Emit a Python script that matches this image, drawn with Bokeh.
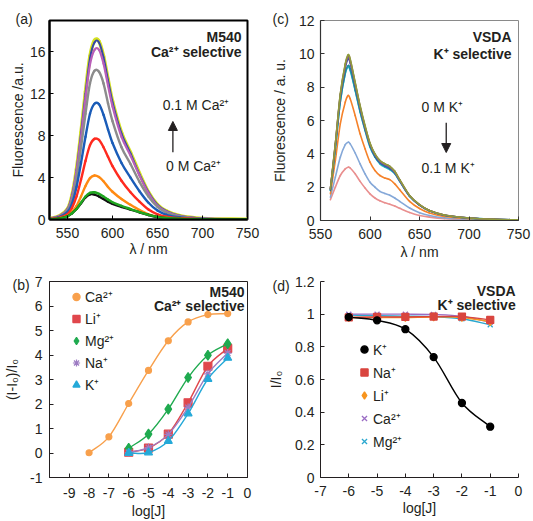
from bokeh.plotting import figure
from bokeh.layouts import gridplot
from bokeh.models import (Range1d, FixedTicker, CustomJSTickFormatter, Label, Arrow,
                          NormalHead, Legend, LegendItem)
from bokeh.embed import file_html
from bokeh.resources import INLINE

FONT = "Liberation Sans"
INK = "#231f20"

# ---------------- data: panel (a) M540 spectra vs Ca2+ ----------------
WL_A = [530, 540, 550, 555, 560, 565, 570, 575, 580, 585, 590, 595, 600,
        610, 620, 630, 640, 650, 660, 675, 700, 750]
A_BLACK = [0.02, 0.08, 0.3, 0.6, 1.0, 1.55, 2.1, 2.4, 2.38, 2.2, 1.95, 1.7, 1.5,
           1.2, 0.95, 0.68, 0.43, 0.24, 0.13, 0.06, 0.02, 0.01]
A_GREEN = [0.02, 0.08, 0.3, 0.6, 1.0, 1.6, 2.2, 2.55, 2.6, 2.45, 2.2, 1.9, 1.65,
           1.3, 1.0, 0.7, 0.45, 0.25, 0.14, 0.06, 0.02, 0.01]
A_ORANGE = [0.03, 0.1, 0.35, 0.7, 1.3, 2.2, 3.2, 3.95, 4.2, 4.05, 3.65, 3.1, 2.65,
            1.95, 1.4, 0.9, 0.5, 0.27, 0.15, 0.07, 0.02, 0.01]
A_RED = [0.05, 0.15, 0.5, 1.1, 2.2, 3.8, 5.6, 7.1, 7.7, 7.6, 6.9, 6.0, 5.1,
         3.7, 2.6, 1.7, 0.95, 0.5, 0.28, 0.12, 0.04, 0.01]
A_BLUE = [0.07, 0.2, 0.7, 1.5, 3.1, 5.4, 7.9, 10.1, 11.05, 11.0, 10.0, 8.6, 7.3,
          5.4, 4.0, 2.7, 1.6, 0.85, 0.45, 0.2, 0.06, 0.01]
A_GRAY = [0.08, 0.25, 0.85, 1.9, 4.0, 6.9, 10.1, 13.0, 14.2, 14.1, 13.0, 11.1, 9.4,
          6.9, 5.3, 3.6, 2.2, 1.2, 0.65, 0.3, 0.08, 0.02]
A_MAGENTA = [0.1, 0.3, 0.95, 2.2, 4.6, 7.9, 11.6, 14.8, 16.2, 16.2, 14.9, 12.8, 10.8,
             7.9, 6.1, 4.2, 2.5, 1.3, 0.75, 0.33, 0.1, 0.02]
A_NAVY = [0.1, 0.3, 1.0, 2.3, 4.7, 8.2, 12.0, 15.4, 16.9, 16.9, 15.5, 13.3, 11.2,
          8.2, 6.3, 4.3, 2.6, 1.4, 0.8, 0.35, 0.1, 0.02]
A_YELLOW = [0.1, 0.3, 1.0, 2.3, 4.8, 8.3, 12.2, 15.6, 17.1, 17.0, 15.6, 13.4, 11.3,
            8.3, 6.4, 4.4, 2.6, 1.4, 0.8, 0.35, 0.1, 0.02]

# ---------------- data: panel (c) VSDA spectra vs K+ ----------------
WL_C = [560, 565, 570, 575, 578, 580, 585, 590, 595, 600, 605, 610, 615, 620,
        625, 630, 640, 650, 660, 675, 700, 725, 750]
C_OLIVE = [1.9, 4.6, 7.6, 9.4, 9.95, 9.7, 8.3, 6.9, 5.7, 4.65, 4.0, 3.6, 3.4, 3.25,
           2.95, 2.45, 1.5, 0.95, 0.6, 0.33, 0.15, 0.07, 0.04]
C_BROWN = [1.9, 4.6, 7.55, 9.35, 9.9, 9.65, 8.25, 6.85, 5.65, 4.6, 3.98, 3.6, 3.4, 3.25,
           2.95, 2.45, 1.5, 0.95, 0.6, 0.33, 0.15, 0.07, 0.04]
C_PURPLE = [1.9, 4.55, 7.5, 9.25, 9.8, 9.55, 8.2, 6.8, 5.6, 4.6, 3.95, 3.55, 3.35, 3.2,
            2.9, 2.4, 1.48, 0.94, 0.6, 0.33, 0.15, 0.07, 0.04]
C_NAVY = [1.85, 4.5, 7.4, 9.15, 9.7, 9.45, 8.1, 6.75, 5.55, 4.55, 3.9, 3.5, 3.3, 3.15,
          2.88, 2.4, 1.47, 0.93, 0.59, 0.32, 0.15, 0.07, 0.04]
C_TEAL = [1.8, 4.35, 7.15, 8.85, 9.3, 9.1, 7.85, 6.55, 5.45, 4.45, 3.82, 3.45, 3.25, 3.1,
          2.83, 2.36, 1.45, 0.92, 0.58, 0.32, 0.14, 0.07, 0.04]
C_CYAN = [1.8, 4.3, 7.1, 8.8, 9.2, 9.0, 7.8, 6.5, 5.4, 4.4, 3.8, 3.4, 3.2, 3.05,
          2.8, 2.35, 1.45, 0.92, 0.58, 0.32, 0.14, 0.07, 0.04]
C_ORANGE = [1.6, 3.6, 5.8, 7.1, 7.5, 7.3, 6.3, 5.2, 4.3, 3.5, 3.0, 2.7, 2.55, 2.45,
            2.2, 1.85, 1.15, 0.72, 0.45, 0.25, 0.11, 0.05, 0.03]
C_LIGHTBLUE = [1.4, 2.6, 3.8, 4.55, 4.7, 4.6, 4.05, 3.4, 2.8, 2.3, 2.0, 1.75, 1.62, 1.52,
               1.35, 1.15, 0.75, 0.47, 0.3, 0.16, 0.07, 0.03, 0.02]
C_PINK = [1.25, 2.0, 2.7, 3.1, 3.2, 3.15, 2.8, 2.35, 1.95, 1.6, 1.35, 1.18, 1.07, 0.98,
          0.87, 0.73, 0.48, 0.3, 0.2, 0.11, 0.05, 0.02, 0.01]

# ---------------- data: panel (b) M540 selectivity ----------------
LOG_B_CA = [-8, -7, -6, -5, -4, -3, -2, -1]
B_CA = [0.01, 0.66, 2.02, 3.37, 4.58, 5.35, 5.65, 5.69]
LOG_B = [-6, -5, -4, -3, -2, -1]
B_LI = [0.03, 0.2, 0.77, 2.05, 3.54, 4.27]
B_MG = [0.19, 0.77, 1.79, 3.08, 3.99, 4.46]
B_NA = [0.02, 0.22, 0.76, 1.86, 3.23, 4.08]
B_K = [0.0, 0.02, 0.49, 1.61, 3.02, 3.88]

# ---------------- data: panel (d) VSDA selectivity ----------------
LOG_D = [-6, -5, -4, -3, -2, -1]
D_K = [0.982, 0.962, 0.908, 0.737, 0.456, 0.311]
D_NA = [0.98, 0.983, 0.983, 0.985, 0.985, 0.965]
D_LI = [0.98, 0.98, 0.98, 0.983, 0.98, 0.955]
D_CA = [1.0, 1.0, 1.0, 0.998, 0.987, 0.95]
D_MG = [0.995, 0.99, 0.988, 0.985, 0.972, 0.935]

TICKS_WL = [550, 600, 650, 700, 750]
TICKS_A_Y = [0, 4, 8, 12, 16]
TICKS_C_Y = [0, 2, 4, 6, 8, 10, 12]
TICKS_B_X = [-9, -8, -7, -6, -5, -4, -3, -2, -1, 0]
TICKS_B_Y = [-1, 0, 1, 2, 3, 4, 5, 6, 7]
TICKS_D_X = [-7, -6, -5, -4, -3, -2, -1, 0]
TICKS_D_Y = [0, 0.2, 0.4, 0.6, 0.8, 1, 1.2]

SUP2P = "\u00b2\u207a"
SUPP = "\u207a"
SUB0 = "\u2080"


def hermite(xs, ys):
    n = len(xs)
    m = []
    for i in range(n):
        a = max(i - 1, 0)
        b = min(i + 1, n - 1)
        m.append((ys[b] - ys[a]) / (xs[b] - xs[a]))
    seg = dict(x0=[], y0=[], x1=[], y1=[], cx0=[], cy0=[], cx1=[], cy1=[])
    for i in range(n - 1):
        h = xs[i + 1] - xs[i]
        seg["x0"].append(xs[i]); seg["y0"].append(ys[i])
        seg["x1"].append(xs[i + 1]); seg["y1"].append(ys[i + 1])
        seg["cx0"].append(xs[i] + h / 3); seg["cy0"].append(ys[i] + m[i] * h / 3)
        seg["cx1"].append(xs[i + 1] - h / 3); seg["cy1"].append(ys[i + 1] - m[i + 1] * h / 3)
    return seg


def curve(p, xs, ys, color, width):
    p.bezier(**hermite(xs, ys), line_color=color, line_width=width, line_cap="round")


def make_fig(w, h, bl, br, bt, bb, xr, yr, letter, offset, standoff):
    p = figure(width=w, height=h, x_range=Range1d(*xr), y_range=Range1d(*yr),
               output_backend="svg", toolbar_location=None,
               min_border_left=bl, min_border_right=br,
               min_border_top=bt, min_border_bottom=bb)
    p.xgrid.grid_line_color = None
    p.ygrid.grid_line_color = None
    p.background_fill_color = "white"
    p.border_fill_color = "white"
    p.title.text = letter
    p.title.align = "left"
    p.title.offset = offset
    p.title.standoff = standoff
    p.title.text_font = FONT
    p.title.text_font_size = "14px"
    p.title.text_font_style = "normal"
    p.title.text_color = INK
    return p


def style_axis(ax, ticks, label, standoff, label_standoff, color=INK, width=1):
    ax.ticker = FixedTicker(ticks=ticks)
    ax.formatter = CustomJSTickFormatter(code="return tick.toString();")
    ax.major_tick_in = 4
    ax.major_tick_out = 0
    ax.minor_tick_line_color = None
    ax.axis_line_color = color
    ax.axis_line_width = width
    ax.major_tick_line_color = color
    ax.major_tick_line_width = 1
    ax.major_label_text_font = FONT
    ax.major_label_text_font_size = "14px"
    ax.major_label_text_color = INK
    ax.major_label_standoff = standoff
    ax.axis_label = label
    ax.axis_label_text_font = FONT
    ax.axis_label_text_font_size = "14px"
    ax.axis_label_text_font_style = "normal"
    ax.axis_label_text_color = INK
    ax.axis_label_standoff = label_standoff


def note(p, x, y, s, align="left", bold=False):
    p.add_layout(Label(x=x, y=y, text=s,
                       text_font=FONT, text_font_size="14px", text_color=INK,
                       text_align=align, text_baseline="middle",
                       text_font_style="bold" if bold else "normal"))


def arrow(p, x, y0, y1):
    p.add_layout(Arrow(end=NormalHead(size=9, fill_color=INK, line_color=INK),
                       x_start=x, y_start=y0, x_end=x, y_end=y1,
                       line_color=INK, line_width=1.3))


def legend(p, items, x, y, gh):
    leg = Legend(items=items, location=(x, y), glyph_width=18, glyph_height=gh,
                 label_height=gh, spacing=3, padding=0, margin=0, label_standoff=-3,
                 border_line_color=None, background_fill_alpha=0,
                 label_text_font=FONT, label_text_font_size="14px",
                 label_text_color=INK)
    p.add_layout(leg)


# ---------------- panel (a) ----------------
pa = make_fig(265, 261, 48, 18, 20, 40, (530, 750), (0, 19), "(a)", -34, -12)
pa.outline_line_color = "black"
pa.outline_line_width = 2
style_axis(pa.xaxis[0], TICKS_WL, "\u03bb / nm", 8, 0, "black", 2)
style_axis(pa.yaxis[0], TICKS_A_Y, "Fluorescence /a.u.", 4, 1, "black", 2)
for ys, col, w in [(A_YELLOW, "#d5e11f", 3.6), (A_NAVY, "#3546a6", 2.0),
                   (A_MAGENTA, "#b95fb8", 2.2), (A_GRAY, "#8c8c8c", 2.4),
                   (A_BLUE, "#1a5cb8", 2.4), (A_RED, "#ff2a1f", 2.4),
                   (A_ORANGE, "#ff8a12", 2.4), (A_BLACK, "#111111", 2.4),
                   (A_GREEN, "#1fa51f", 2.4)]:
    curve(pa, WL_A, ys, col, w)
note(pa, 743.4, 17.39, "M540", "right", True)
note(pa, 743.4, 15.97, "Ca" + SUP2P + " selective", "right", True)
note(pa, 655.7, 10.96, "0.1 M Ca" + SUP2P)
note(pa, 659.4, 5.13, "0 M Ca" + SUP2P)
arrow(pa, 667.1, 6.43, 9.36)

# ---------------- panel (c) ----------------
pc = make_fig(268, 262, 53, 12, 19, 42, (550, 750), (0, 12), "(c)", -48, -12)
pc.outline_line_color = "#8a8a8a"
pc.outline_line_width = 1
style_axis(pc.xaxis[0], TICKS_WL, "\u03bb / nm", 8, 2, "#333333", 1.2)
style_axis(pc.yaxis[0], TICKS_C_Y, "Fluorescence / a. u.", 6, 8, "#333333", 1.2)
for ys, col in [(C_PINK, "#e98f8f"), (C_LIGHTBLUE, "#85a8d8"), (C_ORANGE, "#f5822a"),
                (C_CYAN, "#2cb8cc"), (C_TEAL, "#1e8e9e"), (C_NAVY, "#3d4ea3"),
                (C_PURPLE, "#7b5aa6"), (C_BROWN, "#9a6a4a"), (C_OLIVE, "#8f9b3e")]:
    curve(pc, WL_C, ys, col, 1.6)
note(pc, 743, 11.0, "VSDA", "right", True)
note(pc, 743, 10.0, "K" + SUPP + " selective", "right", True)
note(pc, 652, 6.8, "0 M K" + SUPP)
note(pc, 652, 3.13, "0.1 M K" + SUPP)
arrow(pc, 677, 5.87, 4.08)

# ---------------- panel (b) ----------------
pb = make_fig(265, 259, 49, 18, 19, 44, (-10, 0), (-1, 7), "(b)", -37, -22)
pb.outline_line_color = INK
pb.outline_line_width = 1
style_axis(pb.xaxis[0], TICKS_B_X, "log[J]", 10, 2)
style_axis(pb.yaxis[0], TICKS_B_Y, "(I-I" + SUB0 + ")/I" + SUB0, 7, 7)
b_series = [
    ("Ca" + SUP2P, LOG_B_CA, B_CA, "#f8a04c", "circle", 6),
    ("Li" + SUPP, LOG_B, B_LI, "#e0474c", "square", 8),
    ("Mg" + SUP2P, LOG_B, B_MG, "#1faa4f", "diamond", 10),
    ("Na" + SUPP, LOG_B, B_NA, "#9d7cc3", "asterisk", 8),
    ("K" + SUPP, LOG_B, B_K, "#25a9d8", "triangle", 8),
]
b_items = []
for name, xs, ys, col, mk, sz in b_series:
    curve(pb, xs, ys, col, 1.4)
    r = pb.scatter(xs, ys, marker=mk, size=sz, fill_color=col, line_color=col, line_width=1.2)
    b_items.append(LegendItem(label=name, renderers=[r]))
legend(pb, b_items, 18, 83, 19)
note(pb, -0.15, 6.56, "M540", "right", True)
note(pb, -0.15, 6.02, "Ca" + SUP2P + " selective", "right", True)

# ---------------- panel (d) ----------------
pd = make_fig(268, 259, 53, 15, 18, 41, (-7, 0), (0, 1.2), "(d)", -48, -24)
pd.outline_line_color = None
style_axis(pd.xaxis[0], TICKS_D_X, "log[J]", 8, 1)
style_axis(pd.yaxis[0], TICKS_D_Y, "I/I" + SUB0, 6, 8)
d_series = [
    ("K" + SUPP, D_K, "#000000", "circle", 7),
    ("Na" + SUPP, D_NA, "#d9453f", "square", 7),
    ("Li" + SUPP, D_LI, "#f7941d", "diamond", 8),
    ("Ca" + SUP2P, D_CA, "#9a6cc4", "x", 7),
    ("Mg" + SUP2P, D_MG, "#29a7cf", "x", 7),
]
for name, ys, col, mk, sz in d_series[::-1]:
    curve(pd, LOG_D, ys, col, 1.4)
d_rs = {}
for name, ys, col, mk, sz in d_series[::-1]:
    d_rs[name] = pd.scatter(LOG_D, ys, marker=mk, size=sz, fill_color=col,
                            line_color=col, line_width=1.3)
d_items = [LegendItem(label=s[0], renderers=[d_rs[s[0]]]) for s in d_series]
legend(pd, d_items, 35, 26, 20)
note(pd, -0.1, 1.14, "VSDA", "right", True)
note(pd, -0.1, 1.055, "K" + SUPP + " selective", "right", True)

grid = gridplot([[pa, pc], [pb, pd]], toolbar_location=None)
open("out.html", "w").write(file_html(grid, INLINE))
